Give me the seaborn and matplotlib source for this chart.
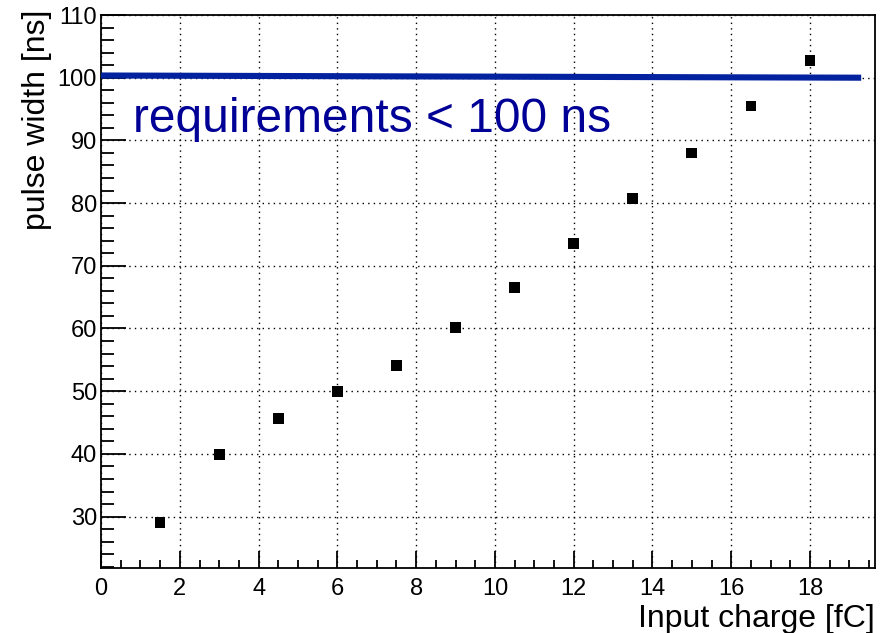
import seaborn as sns
import matplotlib.pyplot as plt
from matplotlib.ticker import MultipleLocator

# Data
charge = [1.5, 3.0, 4.5, 6.0, 7.5, 9.0, 10.5, 12.0, 13.5, 15.0, 16.5, 18.0]
width = [29.1, 39.9, 45.6, 50.0, 54.1, 60.1, 66.5, 73.6, 80.7, 88.0, 95.5, 102.8]
req_x = [0.0, 19.3]
req_y = [100.35, 100.0]

sns.set_style('white')
plt.rcParams['font.family'] = ['Liberation Sans', 'DejaVu Sans']
plt.rcParams['text.color'] = 'black'
plt.rcParams['axes.labelcolor'] = 'black'
plt.rcParams['xtick.color'] = 'black'
plt.rcParams['ytick.color'] = 'black'

fig = plt.figure(figsize=(8.91, 6.33), dpi=100)
ax = fig.add_axes([0.1134, 0.1027, 0.8686, 0.8736])

# requirement line
sns.lineplot(x=req_x, y=req_y, ax=ax, color='#0322a0', linewidth=4.4,
             solid_capstyle='butt', zorder=3)
ax.text(0.8, 91.4, 'requirements < 100 ns', color='#000096', fontsize=34.5,
        ha='left', va='baseline', zorder=4)

# measured points
sns.scatterplot(x=charge, y=width, ax=ax, marker='s', s=60, color='black',
                edgecolor='none', zorder=5)

ax.set_xlim(0, 19.65)
ax.set_ylim(21.8, 110)
ax.xaxis.set_major_locator(MultipleLocator(2))
ax.xaxis.set_minor_locator(MultipleLocator(0.5))
ax.yaxis.set_major_locator(MultipleLocator(10))
ax.yaxis.set_minor_locator(MultipleLocator(2))

ax.grid(True, which='major', color='black', linestyle=(0, (1, 3)), linewidth=1.0)
ax.tick_params(axis='x', which='major', direction='in', length=12, width=1.3,
               labelsize=17, pad=7, top=False, bottom=True, colors='black')
ax.tick_params(axis='x', which='minor', direction='in', length=6, width=1.3,
               top=False, bottom=True, colors='black')
ax.tick_params(axis='y', which='major', direction='in', length=18, width=1.3,
               labelsize=17, pad=3, right=False, left=True, colors='black')
ax.tick_params(axis='y', which='minor', direction='in', length=9, width=1.3,
               right=False, left=True, colors='black')

for sp in ax.spines.values():
    sp.set_color('black')
    sp.set_linewidth(1.3)

ax.set_xlabel('Input charge [fC]', fontsize=23, ha='right', color='black')
ax.xaxis.set_label_coords(1.0, -0.065, transform=ax.transAxes)
ax.set_ylabel('pulse width [ns]', fontsize=23, ha='right', color='black')
ax.yaxis.set_label_coords(-0.064, 1.01, transform=ax.transAxes)

fig.savefig('out.png', dpi=100)
